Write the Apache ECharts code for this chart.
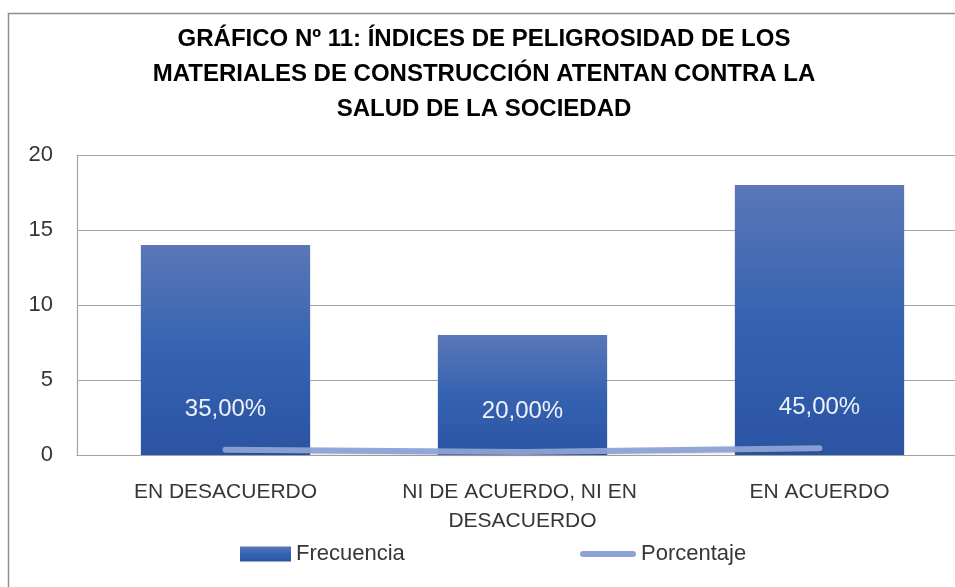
<!DOCTYPE html>
<html>
<head>
<meta charset="utf-8">
<script src="https://cdn.jsdelivr.net/npm/echarts@6/dist/echarts.min.js"></script>
<style>
    html, body { margin: 0; padding: 0; background: #ffffff; }
    #chart { width: 955px; height: 587px; }
</style>
</head>
<body>
<div id="chart"></div>
<script>
// chart values
const categories = ['EN DESACUERDO', 'NI DE ACUERDO, NI EN DESACUERDO', 'EN ACUERDO'];
const frecuencia = [14, 8, 18];
const porcentaje = [0.35, 0.20, 0.45];
const porcentajeLabels = ['35,00%', '20,00%', '45,00%'];
const yTicks = [0, 5, 10, 15, 20];

const titleText = 'GRÁFICO Nº 11: ÍNDICES DE PELIGROSIDAD DE LOS\nMATERIALES DE CONSTRUCCIÓN ATENTAN CONTRA LA\nSALUD DE LA SOCIEDAD';

const font = '"Liberation Sans", Arial, sans-serif';
const textColor = '#363636';
const gridColor = '#a3a3a3';
const lineColor = '#8da3d6';

const chart = echarts.init(document.getElementById('chart'), null, { renderer: 'canvas' });

const barGradient = {
    type: 'linear', x: 0, y: 0, x2: 0, y2: 1,
    colorStops: [
        { offset: 0, color: '#5a77b8' },
        { offset: 0.5, color: '#3563b1' },
        { offset: 1, color: '#2b54a3' }
    ]
};

const option = {
    backgroundColor: '#ffffff',
    animation: false,
    title: {
        text: titleText,
        left: 479,
        top: 17,
        textAlign: 'center',
        textStyle: {
            fontFamily: font,
            fontWeight: 'bold',
            fontSize: 24,
            lineHeight: 35,
            color: '#000000'
        }
    },
    graphic: [{
        type: 'rect',
        shape: { x: 8.5, y: 13.5, width: 1000, height: 700 },
        style: { fill: 'none', stroke: '#8e8e8e', lineWidth: 1.5 },
        silent: true
    }],
    legend: [
        {
            data: ['Frecuencia'],
            left: 235,
            top: 538,
            itemWidth: 51,
            itemHeight: 15,
            icon: 'rect',
            textStyle: { fontFamily: font, fontSize: 22, color: textColor }
        },
        {
            data: [{
                name: 'Porcentaje',
                icon: 'path://M3,0 L53,0 A3,3 0 0 1 53,6 L3,6 A3,3 0 0 1 3,0 Z',
                itemStyle: { color: lineColor, opacity: 1 }
            }],
            left: 575,
            top: 538,
            itemWidth: 56,
            itemHeight: 15,
            textStyle: { fontFamily: font, fontSize: 22, color: textColor }
        }
    ],
    grid: {
        left: 77,
        top: 155,
        width: 891,
        height: 300,
        outerBoundsMode: 'none'
    },
    xAxis: {
        type: 'category',
        data: categories,
        axisLine: { show: true, lineStyle: { color: gridColor, width: 1.2 } },
        axisTick: { show: false },
        axisLabel: {
            fontFamily: font,
            fontSize: 21,
            lineHeight: 29,
            color: textColor,
            margin: 23,
            width: 270,
            overflow: 'break',
            interval: 0
        }
    },
    yAxis: {
        type: 'value',
        min: yTicks[0],
        max: yTicks[yTicks.length - 1],
        interval: yTicks[1] - yTicks[0],
        axisLine: { show: true, lineStyle: { color: gridColor, width: 1.2 } },
        axisTick: { show: false },
        axisLabel: {
            fontFamily: font,
            fontSize: 22,
            color: textColor,
            margin: 24
        },
        splitLine: { lineStyle: { color: gridColor, width: 1.2 } }
    },
    series: [
        {
            name: 'Frecuencia',
            type: 'bar',
            data: frecuencia,
            barWidth: '57%',
            itemStyle: { color: barGradient }
        },
        {
            name: 'Porcentaje',
            type: 'line',
            data: porcentaje,
            symbol: 'circle',
            symbolSize: 1,
            showSymbol: true,
            itemStyle: { color: 'rgba(0,0,0,0)' },
            lineStyle: {
                color: 'rgba(141,163,214,0.95)',
                width: 6,
                cap: 'round',
                shadowColor: 'rgba(0,0,0,0.15)',
                shadowBlur: 2,
                shadowOffsetY: 1
            },
            label: {
                show: true,
                position: 'top',
                distance: 28,
                fontFamily: font,
                fontSize: 24,
                color: 'rgba(255,255,255,0.92)',
                formatter: p => porcentajeLabels[p.dataIndex]
            },
            z: 3
        }
    ]
};

chart.setOption(option);
window.addEventListener('resize', () => chart.resize());
</script>
</body>
</html>
